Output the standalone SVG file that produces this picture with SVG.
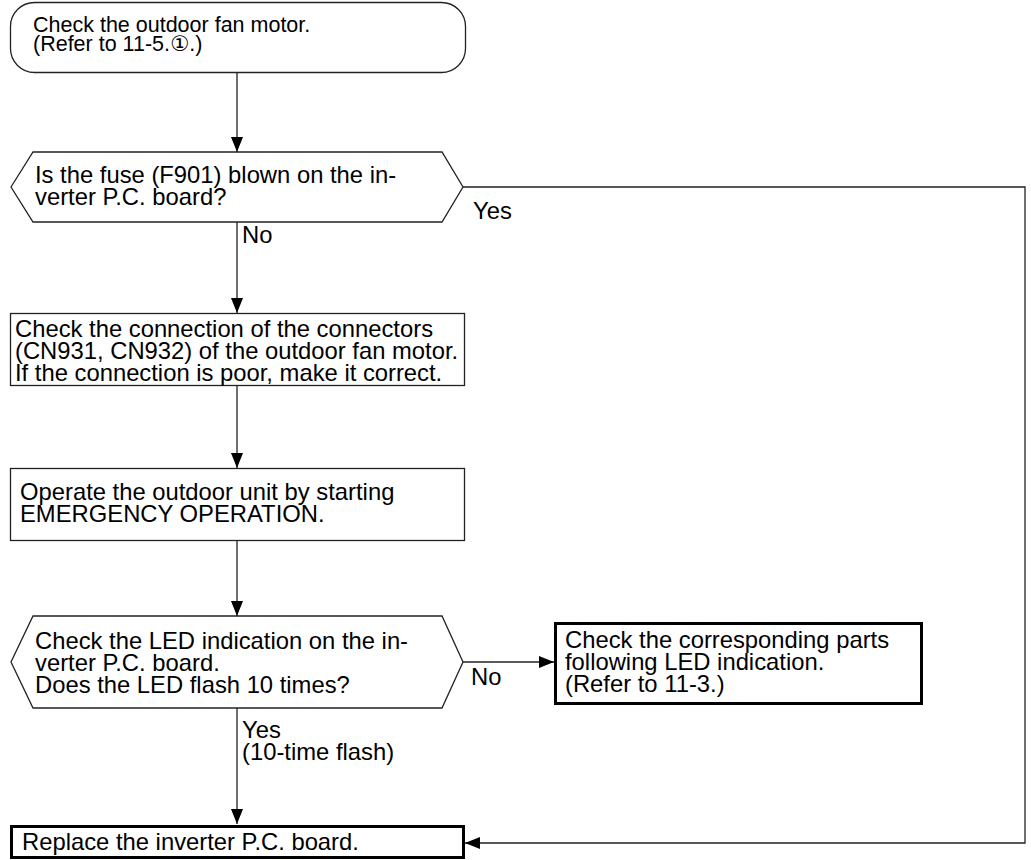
<svg xmlns="http://www.w3.org/2000/svg" width="1031" height="860" viewBox="0 0 1031 860">
<style>
  text { font-family: "Liberation Sans", Arial, "DejaVu Sans", sans-serif; font-size: 23.8px; fill: #000; }
  .small { font-size: 21.5px; }
  .box { fill: #fff; stroke: #222; stroke-width: 1.3; }
  .thick { fill: #fff; stroke: #000; stroke-width: 3; }
  .edge { fill: none; stroke: #222; stroke-width: 1.3; }
</style>
<defs>
  <marker id="arrow" markerWidth="15" markerHeight="12" refX="15" refY="6" orient="auto" markerUnits="userSpaceOnUse">
    <path d="M0,0 L15,6 L0,12 Z" fill="#000"/>
  </marker>
</defs>
<rect width="1031" height="860" fill="#fff"/>
<g id="connectors">
  <line class="edge" x1="237" y1="72" x2="237" y2="152" marker-end="url(#arrow)"/>
  <line class="edge" x1="237" y1="222" x2="237" y2="313" marker-end="url(#arrow)"/>
  <line class="edge" x1="237" y1="386" x2="237" y2="468" marker-end="url(#arrow)"/>
  <line class="edge" x1="237" y1="541" x2="237" y2="616" marker-end="url(#arrow)"/>
  <line class="edge" x1="237" y1="708" x2="237" y2="824" marker-end="url(#arrow)"/>
  <line class="edge" x1="463" y1="662" x2="554" y2="662" marker-end="url(#arrow)"/>
  <polyline class="edge" points="463,187 1025,187 1025,843 465,843" marker-end="url(#arrow)"/>
  <text x="473" y="219">Yes</text>
  <text x="242" y="243">No</text>
  <text x="471" y="685">No</text>
  <text x="242" y="738">Yes</text>
  <text x="242" y="760">(10-time flash)</text>
</g>
<g id="start">
  <rect class="box" x="10.5" y="2.5" width="455" height="70" rx="24"/>
  <text class="small" x="33" y="32">Check the outdoor fan motor.</text>
  <text class="small" x="33" y="51">(Refer to 11-5.①.)</text>
</g>
<g id="fuse">
  <polygon class="box" points="11,187 33,152 442,152 463,187 442,222 33,222"/>
  <text x="35" y="183">Is the fuse (F901) blown on the in-</text>
  <text x="35" y="205">verter P.C. board?</text>
</g>
<g id="connection">
  <rect class="box" x="10.5" y="313.5" width="454" height="72"/>
  <text x="15" y="337">Check the connection of the connectors</text>
  <text x="15" y="359">(CN931, CN932) of the outdoor fan motor.</text>
  <text x="15" y="381">If the connection is poor, make it correct.</text>
</g>
<g id="operate">
  <rect class="box" x="10.5" y="468.5" width="454" height="72"/>
  <text x="20" y="500">Operate the outdoor unit by starting</text>
  <text x="20" y="522">EMERGENCY OPERATION.</text>
</g>
<g id="led">
  <polygon class="box" points="11,662 33,616 442,616 463,662 442,708 33,708"/>
  <text x="35" y="649">Check the LED indication on the in-</text>
  <text x="35" y="671">verter P.C. board.</text>
  <text x="35" y="693">Does the LED flash 10 times?</text>
</g>
<g id="parts">
  <rect class="thick" x="555.5" y="623.5" width="366" height="80"/>
  <text x="565" y="648">Check the corresponding parts</text>
  <text x="565" y="670">following LED indication.</text>
  <text x="565" y="692">(Refer to 11-3.)</text>
</g>
<g id="replace">
  <rect class="thick" x="11.5" y="826.5" width="452" height="31"/>
  <text x="22" y="850">Replace the inverter P.C. board.</text>
</g>
</svg>
